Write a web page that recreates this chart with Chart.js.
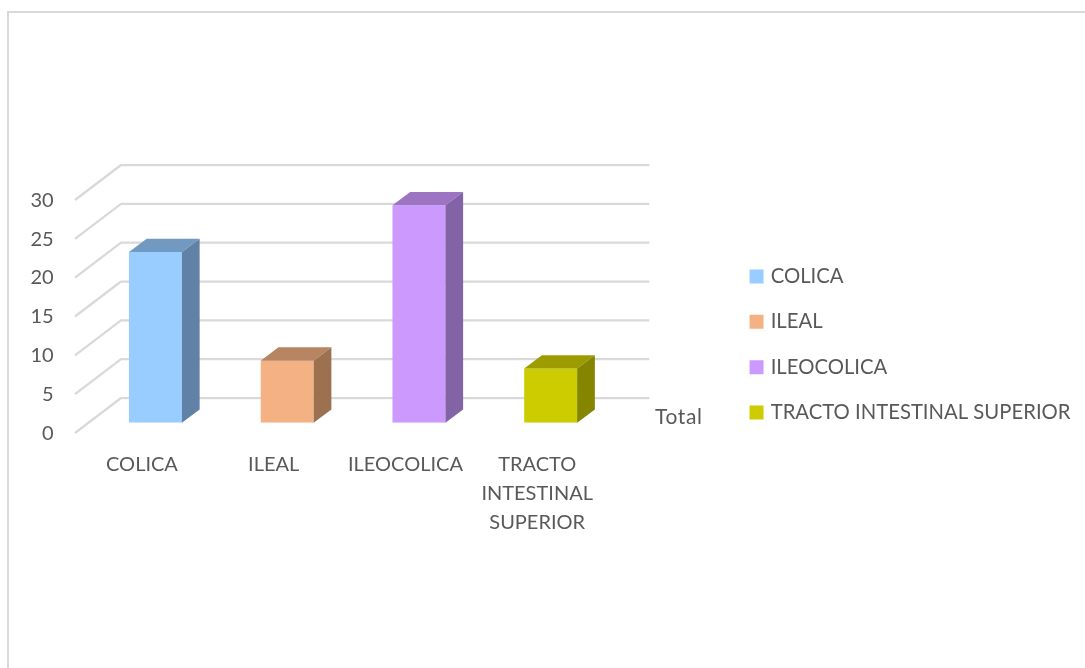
<!DOCTYPE html>
<html>
<head>
<meta charset="utf-8">
<title>Localización</title>
<script src="https://cdn.jsdelivr.net/npm/chart.js@4"></script>
<style>
  html, body { margin: 0; padding: 0; background: #fff; }
  #wrap { position: relative; width: 1085px; height: 668px; overflow: hidden; }
  #frame { position: absolute; left: 7px; top: 11px; right: -5px; bottom: -5px;
           border-left: 2px solid #d9d9d9; border-top: 2px solid #d9d9d9; }
  canvas { position: absolute; left: 0; top: 0; }
</style>
</head>
<body>
<div id="wrap">
  <div id="frame"></div>
  <canvas id="chart" width="1085" height="668"></canvas>
</div>
<script>
// Series and axis content
const categories = ['COLICA', 'ILEAL', 'ILEOCOLICA', 'TRACTO INTESTINAL SUPERIOR'];
const axisLabels = ['COLICA', 'ILEAL', 'ILEOCOLICA', ['TRACTO', 'INTESTINAL', 'SUPERIOR']];
const totals = [22, 8, 28, 7];
const yTicks = [0, 5, 10, 15, 20, 25, 30];
const groupName = 'Total';

// Face colours of each prism
const frontColors = ['#99CCFF', '#F4B183', '#CC99FF', '#CCCC00'];
const topColors = ['#7299C2', '#B78562', '#9C74C2', '#9C9C00'];
const sideColors = ['#6281A6', '#9C7150', '#8264A6', '#858500'];

const FONT = 'Lato, "Open Sans", sans-serif';
const TEXT = '#595959';
const GRID = '#d9d9d9';

// Perspective of the plot box: depth of the bars and of the whole floor
const barDepth = { x: 17.7, y: 13.3 };
const wall = { frontX: 75, backX: 121, rightX: 649.3, backDy: -24.8, frontDy: 10.2 };

// The layout caps side boxes at a fraction of the canvas; the long legend entry needs more
const legendWidthPlugin = {
  id: 'legendWidth',
  beforeLayout(chart) {
    const legend = chart.legend;
    if (!legend || legend._widened) return;
    const update = legend.update;
    legend.update = function (w, h, margins) {
      return update.call(this, Math.max(w, 420), h, margins);
    };
    legend._widened = true;
  }
};

// Back wall and side wall gridlines, behind the bars
const wallPlugin = {
  id: 'walls',
  beforeDatasetsDraw(chart) {
    const { ctx, scales: { y } } = chart;
    ctx.save();
    ctx.strokeStyle = GRID;
    ctx.lineWidth = 2.25;
    ctx.lineJoin = 'round';
    yTicks.forEach(v => {
      const p = y.getPixelForValue(v);
      ctx.beginPath();
      ctx.moveTo(wall.frontX, p + wall.frontDy);
      ctx.lineTo(wall.backX, p + wall.backDy);
      ctx.lineTo(wall.rightX, p + wall.backDy);
      ctx.stroke();
    });
    ctx.restore();
  }
};

// Top and right faces of each bar, extruded from the bar element itself
const prismPlugin = {
  id: 'prisms',
  afterDatasetsDraw(chart) {
    const { ctx } = chart;
    const bars = chart.getDatasetMeta(0).data;
    const { x: dx, y: dy } = barDepth;
    ctx.save();
    bars.forEach((bar, i) => {
      const { x, y, base, width } = bar.getProps(['x', 'y', 'base', 'width'], true);
      const l = x - width / 2, r = x + width / 2;
      ctx.fillStyle = topColors[i];
      ctx.beginPath();
      ctx.moveTo(l, y);
      ctx.lineTo(l + dx, y - dy);
      ctx.lineTo(r + dx, y - dy);
      ctx.lineTo(r, y);
      ctx.closePath();
      ctx.fill();
      ctx.fillStyle = sideColors[i];
      ctx.beginPath();
      ctx.moveTo(r, y);
      ctx.lineTo(r + dx, y - dy);
      ctx.lineTo(r + dx, base - dy);
      ctx.lineTo(r, base);
      ctx.closePath();
      ctx.fill();
    });
    // Group caption to the right of the floor
    ctx.fillStyle = TEXT;
    ctx.font = '21px ' + FONT;
    ctx.letterSpacing = '0.6px';
    ctx.textAlign = 'left';
    ctx.textBaseline = 'middle';
    ctx.fillText(groupName, 655, 417);
    ctx.restore();
  }
};

new Chart(document.getElementById('chart'), {
  type: 'bar',
  data: {
    labels: axisLabels,
    datasets: [{
      label: groupName,
      data: totals,
      backgroundColor: frontColors,
      barPercentage: 0.402,
      categoryPercentage: 1
    }]
  },
  options: {
    responsive: false,
    animation: false,
    layout: { padding: { top: 21, right: 4.5, bottom: 0, left: 0 } },
    scales: {
      x: {
        grid: { display: false },
        border: { display: false },
        ticks: {
          autoSkip: false,
          maxRotation: 0,
          minRotation: 0,
          padding: 19.5,
          labelOffset: -13.5,
          color: TEXT,
          font: { family: FONT, size: 20, lineHeight: 1.45 }
        },
        afterFit(s) { s.height = 245.2; }
      },
      y: {
        min: 0,
        max: 30,
        grid: { display: false },
        border: { display: false },
        ticks: {
          stepSize: 5,
          padding: 28,
          labelOffset: 10.5,
          color: TEXT,
          font: { family: FONT, size: 20 }
        },
        afterFit(s) { s.width = 89.6; }
      },
      // Blank margins that hold the plot box away from the top edge and the legend
      topGap: {
        type: 'category',
        position: 'top',
        grid: { display: false },
        border: { display: false },
        ticks: { display: false },
        afterFit(s) { s.height = 168.8; }
      },
      rightGap: {
        type: 'linear',
        position: 'right',
        grid: { display: false },
        border: { display: false },
        ticks: { display: false },
        afterFit(s) { s.width = 111; }
      }
    },
    plugins: {
      tooltip: { enabled: false },
      legend: {
        display: true,
        position: 'right',
        align: 'center',
        labels: {
          boxWidth: 8,
          boxHeight: 8,
          padding: 25,
          color: TEXT,
          font: { family: FONT, size: 20.3 },
          generateLabels() {
            return categories.map((name, i) => ({
              text: name,
              fillStyle: frontColors[i],
              strokeStyle: frontColors[i],
              lineWidth: 6,
              fontColor: TEXT,
              hidden: false,
              index: i
            }));
          }
        }
      }
    }
  },
  plugins: [legendWidthPlugin, wallPlugin, prismPlugin]
});
</script>
</body>
</html>
